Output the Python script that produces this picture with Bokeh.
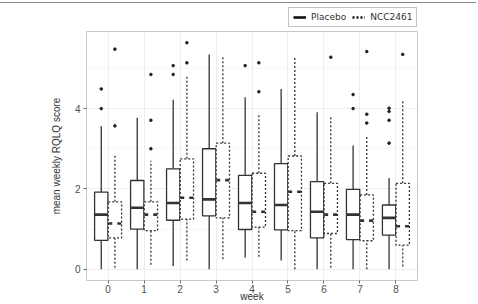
from bokeh.plotting import figure
from bokeh.models import (FixedTicker, Legend, LegendItem, Div)
from bokeh.layouts import column
from bokeh.embed import file_html
from bokeh.resources import INLINE

weeks = [0, 1, 2, 3, 4, 5, 6, 7, 8]
week_labels = ["0", "1", "2", "3", "4", "5", "6", "7", "8"]
groups = ["Placebo", "NCC2461"]

# Placebo box stats: lower whisker, Q1, median, Q3, upper whisker
pl_low = [0.00, 0.00, 0.08, 0.00, 0.29, 0.22, 0.00, 0.00, 0.00]
pl_q1 = [0.72, 1.00, 1.22, 1.33, 0.99, 0.98, 0.78, 0.74, 0.85]
pl_med = [1.36, 1.53, 1.65, 1.74, 1.65, 1.60, 1.43, 1.36, 1.28]
pl_q3 = [1.92, 2.21, 2.50, 3.00, 2.34, 2.63, 2.18, 1.99, 1.60]
pl_up = [3.56, 3.77, 4.22, 5.35, 4.28, 4.49, 3.91, 3.08, 2.27]

# NCC2461 box stats
nc_low = [0.04, 0.11, 0.22, 0.25, 0.31, 0.00, 0.04, 0.00, 0.07]
nc_q1 = [0.78, 0.96, 1.25, 1.28, 1.05, 0.96, 0.89, 0.71, 0.60]
nc_med = [1.14, 1.36, 1.78, 2.22, 1.43, 1.93, 1.36, 1.21, 1.07]
nc_q3 = [1.68, 1.68, 2.75, 3.14, 2.39, 2.82, 2.14, 1.85, 2.14]
nc_up = [2.83, 2.70, 4.80, 5.28, 3.85, 5.28, 3.79, 3.31, 4.20]

# Outliers (week, value)
pl_out_week = [0, 0, 2, 2, 4, 7, 7, 8, 8, 8, 8]
pl_out_val = [4.00, 4.49, 4.85, 5.07, 5.07, 4.00, 4.35, 3.14, 3.71, 3.93, 4.01]
nc_out_week = [0, 0, 1, 1, 1, 2, 2, 4, 4, 6, 7, 7, 7, 8]
nc_out_val = [3.57, 5.48, 3.00, 3.71, 4.85, 5.14, 5.64, 4.42, 5.14, 5.28, 3.64, 3.86, 5.42, 5.35]

OFF = 0.19
W = 0.37
LC = "#333333"

p = figure(width=478, height=274, output_backend="svg", toolbar_location=None,
           x_range=(-0.6, 8.6), y_range=(-0.28, 5.92),
           min_border_left=86, min_border_right=61, min_border_top=1,
           min_border_bottom=18)
p.background_fill_color = "white"
p.border_fill_color = "white"
p.outline_line_color = "#C8C8C8"
p.outline_line_width = 1

def draw(weeks_, low, q1, med, q3, up, off, dash, med_dash):
    x = [w + off for w in weeks_]
    data = dict(x=x, l=[v - W / 2 for v in x], r=[v + W / 2 for v in x],
                low=low, q1=q1, med=med, q3=q3, up=up)
    p.segment(x0="x", y0="q3", x1="x", y1="up", source=data, line_color=LC,
              line_width=1.3, line_dash=dash)
    p.segment(x0="x", y0="low", x1="x", y1="q1", source=data, line_color=LC,
              line_width=1.3, line_dash=dash)
    p.quad(left="l", right="r", bottom="q1", top="q3", source=data, fill_color="white",
           line_color=LC, line_width=1.3, line_dash=dash)
    p.segment(x0="l", y0="med", x1="r", y1="med", source=data, line_color=LC,
              line_width=2.6, line_dash=med_dash)

draw(weeks, pl_low, pl_q1, pl_med, pl_q3, pl_up, -OFF, "solid", "solid")
draw(weeks, nc_low, nc_q1, nc_med, nc_q3, nc_up, OFF, "2 2", "4 5")

p.scatter([w - OFF for w in pl_out_week], pl_out_val, size=2.6, color="#222222")
p.scatter([w + OFF for w in nc_out_week], nc_out_val, size=2.6, color="#222222")

p.xaxis.ticker = FixedTicker(ticks=weeks)
p.xaxis.major_label_overrides = {w: s for w, s in zip(weeks, week_labels)}
p.yaxis.ticker = FixedTicker(ticks=[0, 2, 4], minor_ticks=[1, 3, 5])
for ax in (p.xaxis, p.yaxis):
    ax.axis_line_color = None
    ax.major_tick_line_color = "#666666"
    ax.major_tick_out = 3
    ax.major_tick_in = 0
    ax.minor_tick_line_color = None
    ax.major_label_text_font = "Liberation Sans"
    ax.major_label_text_font_size = "10px"
    ax.major_label_text_color = "#4D4D4D"
    ax.axis_label_text_font = "Liberation Sans"
    ax.axis_label_text_font_size = "10px"
    ax.axis_label_text_font_style = "normal"
    ax.axis_label_text_color = "#333333"
    ax.major_label_standoff = 2
p.xaxis.major_label_standoff = 1
p.xaxis.axis_label = "week"
p.yaxis.axis_label = "mean weekly RQLQ score"
p.xaxis.axis_label_standoff = -5
p.yaxis.axis_label_standoff = 10

p.xgrid.grid_line_color = "#EEEEEE"
p.ygrid.grid_line_color = "#EEEEEE"
p.ygrid.minor_grid_line_color = "#F6F6F6"

# legend strip (separate small figure above the panel, frames aligned by column)
lg = figure(width=478, height=27, output_backend="svg", toolbar_location=None,
            x_range=(0, 1), y_range=(0, 1), x_axis_location=None, y_axis_location=None,
            min_border_left=86, min_border_right=61, min_border_top=0, min_border_bottom=0)
lg.outline_line_color = None
lg.xgrid.visible = False
lg.ygrid.visible = False
r1 = lg.line([-5, -4], [-5, -5], line_color="#111111", line_width=2.6)
r2 = lg.line([-5, -4], [-5, -5], line_color="#111111", line_width=2.6, line_dash="2 2")
legend = Legend(items=[LegendItem(label=groups[0], renderers=[r1]),
                       LegendItem(label=groups[1], renderers=[r2])],
                orientation="horizontal", location=(202, 3),
                glyph_width=13, glyph_height=10, label_standoff=5, spacing=6,
                padding=4, margin=0,
                label_text_font="DejaVu Sans", label_text_font_size="9px",
                label_text_color="#333333", border_line_color="#888888",
                border_line_width=1, background_fill_color="white",
                label_height=10)
lg.add_layout(legend, "center")

top_line = Div(width=476, height=1, margin=(2, 0, 0, 0),
               styles={"background-color": "#888888"})
layout = column(top_line, lg, p, spacing=0)

open("out.html", "w").write(file_html(layout, INLINE))
